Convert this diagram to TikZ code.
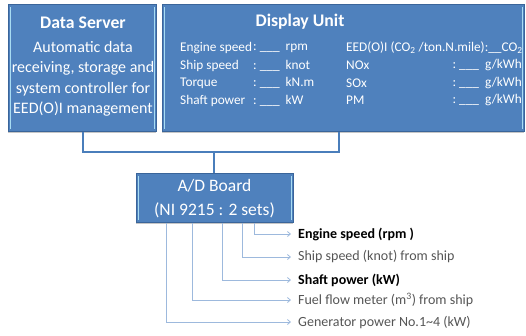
\documentclass[tikz,border=0pt]{standalone}
\usepackage{fontspec}
\setmainfont{Carlito}
\usetikzlibrary{arrows.meta,shadows}
\definecolor{boxblue}{HTML}{4F81BD}
\definecolor{boxedge}{HTML}{3A659A}
\definecolor{hilite}{HTML}{A8DCF2}
\definecolor{linkblue}{HTML}{4A7EBB}
\definecolor{outblue}{HTML}{9DB9DD}
\definecolor{labgray}{HTML}{555555}
\tikzset{
  bluebox/.style={draw=boxedge, line width=0.8pt, fill=boxblue, anchor=north west, inner sep=0pt,
    drop shadow={shadow xshift=0pt, shadow yshift=-1.6pt, opacity=0.45}},
  titletext/.style={text=white, font=\fontsize{17.7}{20}\selectfont\bfseries, inner sep=0pt},
  bodytext/.style={text=white, font=\fontsize{16}{20.5}\selectfont, align=center, inner sep=0pt},
  rowtext/.style={text=white, font=\fontsize{13.3}{16}\selectfont, inner sep=0pt},
  adtext/.style={text=white, font=\fontsize{17.5}{24}\selectfont, align=center, inner sep=0pt},
  link/.style={draw=linkblue, line width=1.1pt},
  outline/.style={draw=outblue, line width=0.8pt, -{Straight Barb[length=3pt,width=5pt]}},
  outlab/.style={font=\fontsize{14}{16}\selectfont, anchor=west, inner sep=0pt},
  hl/.style={draw=hilite, line width=1.2pt}
}
\begin{document}
\begin{tikzpicture}[x=1pt,y=-1pt]
\useasboundingbox (0,0) rectangle (526,335);

% boxes
\node[bluebox, minimum width=148pt, minimum height=127pt] (ds) at (8,4) {};
\node[bluebox, minimum width=362pt, minimum height=127pt] (du) at (162,4) {};
\node[bluebox, minimum width=157pt, minimum height=49pt] (ad) at (136,173) {};

% highlights
\foreach \b in {ds,du,ad}{
  \draw[hl] ([xshift=2.6pt,yshift=-3pt]\b.north west) -- ([xshift=2.6pt,yshift=3pt]\b.south west);
  \draw[hl] ([xshift=-2.6pt,yshift=-3pt]\b.north east) -- ([xshift=-2.6pt,yshift=3pt]\b.south east);
}

% Data server text
\node[titletext] (dst) at (83,23) {Data Server};
\node[bodytext] (dsb) at (83,79) {Automatic data\\receiving, storage and\\system controller for\\EED(O)I management};

% Display unit text
\node[titletext] (dut) at (300,22) {Display Unit};
\node[rowtext, anchor=west] (r1) at (180,48) {Engine speed};
\node[rowtext, anchor=west] (r2) at (180,65.5) {Ship speed};
\node[rowtext, anchor=west] (r3) at (180,83) {Torque};
\node[rowtext, anchor=west] (r4) at (180,100.5) {Shaft power};
\node[rowtext, anchor=west] (v1) at (253,48) {:\ \_\_\_ \ rpm};
\node[rowtext, anchor=west] (v2) at (253,65.5) {:\ \_\_\_ \ knot};
\node[rowtext, anchor=west] (v3) at (253,83) {:\ \_\_\_ \ kN.m};
\node[rowtext, anchor=west] (v4) at (253,100.5) {:\ \_\_\_ \ kW};
\node[rowtext, anchor=west] (e1) at (346,48) {EED(O)I (CO\textsubscript{2} /ton.N.mile):\_\_CO\textsubscript{2}};
\node[rowtext, anchor=west] (e2) at (346,65.5) {NOx};
\node[rowtext, anchor=west] (e3) at (346,83) {SOx};
\node[rowtext, anchor=west] (e4) at (346,100.5) {PM};
\node[rowtext, anchor=east] (g2) at (522,65.5) {:\ \_\_\_ \ g/kWh};
\node[rowtext, anchor=east] (g3) at (522,83) {:\ \_\_\_ \ g/kWh};
\node[rowtext, anchor=east] (g4) at (522,100.5) {:\ \_\_\_ \ g/kWh};

% A/D board text
\node[adtext] (adt) at (214.5,199) {A/D Board\\(NI 9215 : 2 sets)};

% connectors between boxes
\coordinate (j1) at (83,152);
\coordinate (j2) at (339,152);
\coordinate (j3) at (214,152);
\draw[link] (ds.south -| j1) -- (j1) -- (j2) -- (du.south -| j2);
\draw[link] (j3) -- (ad.north -| j3);

% output labels
\node[outlab, text=black, font=\fontsize{14}{16}\selectfont\bfseries] (o1) at (298,234) {Engine speed (rpm )};
\node[outlab, text=labgray] (o2) at (298,257) {Ship speed (knot) from ship};
\node[outlab, text=black, font=\fontsize{14}{16}\selectfont\bfseries] (o3) at (298,280) {Shaft power (kW)};
\node[outlab, text=labgray] (o4) at (298,300) {Fuel flow meter (m\textsuperscript{3}) from ship};
\node[outlab, text=labgray] (o5) at (298,322) {Generator power No.1\textasciitilde4 (kW)};

\coordinate (x1) at (254,0);
\coordinate (x2) at (242,0);
\coordinate (x3) at (222,0);
\coordinate (x4) at (192,0);
\coordinate (x5) at (166,0);
\foreach \i in {1,...,5}{
  \draw[outline, shorten >=7pt] (ad.south -| x\i) |- (o\i.west);
}
\end{tikzpicture}
\end{document}
